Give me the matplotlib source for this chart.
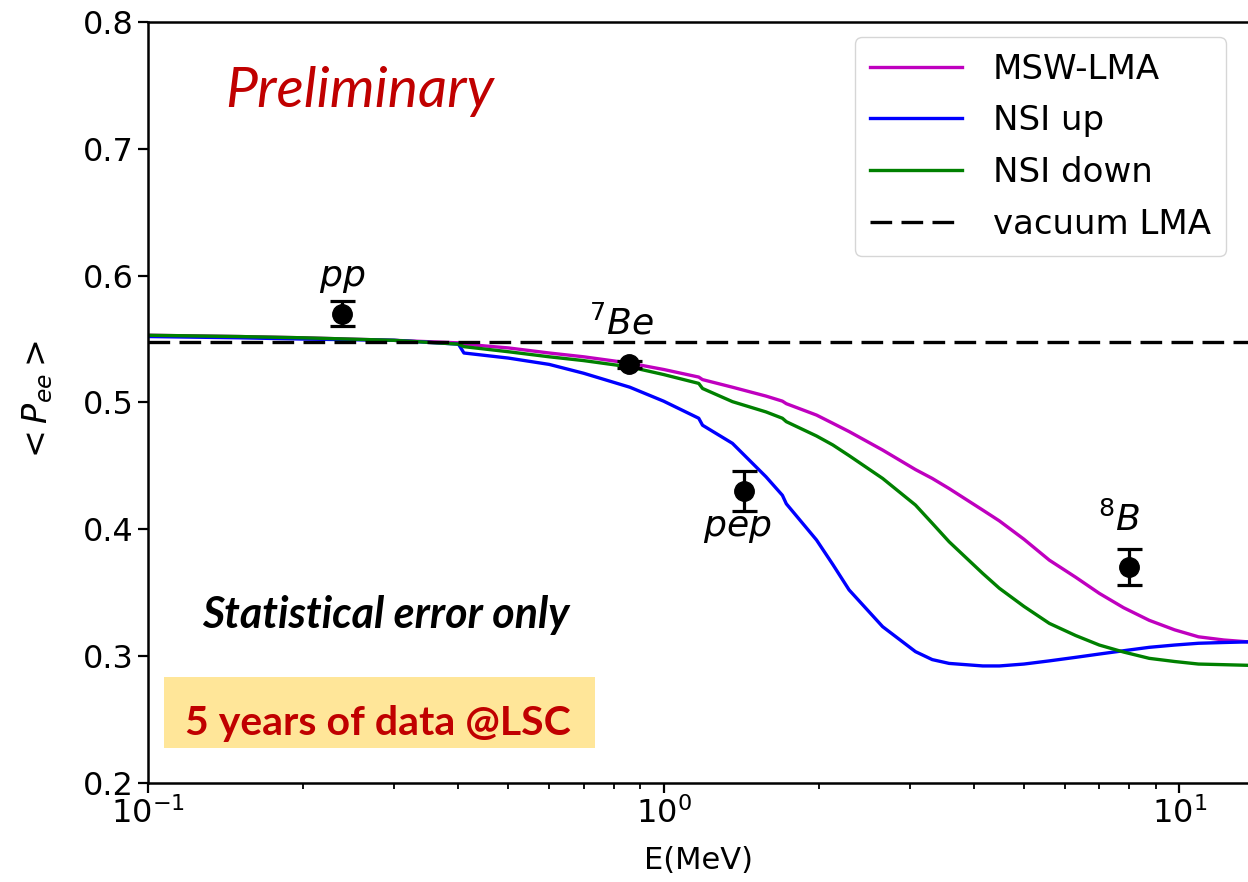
import matplotlib
matplotlib.use("Agg")
import matplotlib.pyplot as plt
from matplotlib.patches import Rectangle

energy = [0.1, 0.15, 0.2, 0.3, 0.4, 0.41, 0.5, 0.6, 0.7, 0.86, 1.0, 1.17, 1.19,
          1.36, 1.58, 1.70, 1.73, 1.98, 2.13, 2.29, 2.66, 3.08, 3.32, 3.58, 4.16,
          4.48, 5.0, 5.6, 6.3, 7.0, 7.8, 8.75, 9.8, 10.9, 12.2, 13.6]

msw_lma = [0.553, 0.552, 0.551, 0.549, 0.547, 0.546, 0.543, 0.539, 0.536, 0.531,
           0.526, 0.520, 0.518, 0.512, 0.505, 0.501, 0.499, 0.490, 0.4835, 0.477,
           0.4624, 0.447, 0.440, 0.432, 0.415, 0.4065, 0.392, 0.3755, 0.362,
           0.3493, 0.338, 0.328, 0.3205, 0.315, 0.3125, 0.311]

nsi_up = [0.552, 0.551, 0.550, 0.549, 0.546, 0.539, 0.535, 0.530, 0.523, 0.512,
          0.501, 0.4875, 0.482, 0.4677, 0.4413, 0.4267, 0.420, 0.3914, 0.372,
          0.352, 0.323, 0.3033, 0.297, 0.294, 0.292, 0.292, 0.2935, 0.296, 0.2988,
          0.3014, 0.304, 0.3067, 0.3085, 0.3099, 0.3105, 0.311]

nsi_down = [0.553, 0.552, 0.551, 0.549, 0.546, 0.544, 0.540, 0.536, 0.533, 0.528,
            0.522, 0.515, 0.511, 0.5006, 0.4925, 0.4875, 0.4848, 0.4735, 0.4664,
            0.458, 0.440, 0.419, 0.4046, 0.390, 0.365, 0.3533, 0.339, 0.3256,
            0.316, 0.3085, 0.303, 0.298, 0.2955, 0.2935, 0.293, 0.2925]

vacuum_lma = 0.548

# measured points
src_names = ["$pp$", "$^7Be$", "$pep$", "$^8B$"]
src_energy = [0.238, 0.855, 1.43, 8.0]
src_pee = [0.570, 0.530, 0.430, 0.370]
src_err = [0.010, 0.003, 0.016, 0.014]
label_pos = [(0.238, 0.598), (0.83, 0.562), (1.39, 0.401), (7.65, 0.407)]

fig = plt.figure(figsize=(12.48, 8.82), dpi=100)
ax = fig.add_axes([0.1186, 0.1128, 0.8814, 0.8619])

ax.plot(energy, msw_lma, color="m", lw=2.4, label="MSW-LMA")
ax.plot(energy, nsi_up, color="b", lw=2.4, label="NSI up")
ax.plot(energy, nsi_down, color="g", lw=2.4, label="NSI down")
ax.axhline(vacuum_lma, color="k", lw=2.4, ls=(0, (6.5, 2.8)), label="vacuum LMA")

ax.errorbar(src_energy, src_pee, yerr=src_err, fmt="o", color="k", ms=14,
            capsize=9, elinewidth=2.3, capthick=2.3, zorder=5)
for name, (x, y) in zip(src_names, label_pos):
    ax.text(x, y, name, fontsize=26, ha="center", va="center")

ax.set_xscale("log")
ax.set_xlim(0.1, 13.6)
ax.set_ylim(0.2, 0.8)
ax.set_yticks([0.2, 0.3, 0.4, 0.5, 0.6, 0.7, 0.8])
ax.spines["right"].set_visible(False)
for s in ["left", "top", "bottom"]:
    ax.spines[s].set_linewidth(1.8)
ax.tick_params(which="major", labelsize=23, length=7, width=1.6)
ax.tick_params(which="minor", length=4.5, width=1.3)
ax.set_xlabel("E(MeV)", fontsize=22, labelpad=12)
ax.set_ylabel(r"$<P_{ee}>$", fontsize=24, labelpad=20)

leg = ax.legend(loc="upper right", bbox_to_anchor=(0.996, 0.977),
                bbox_transform=fig.transFigure, fontsize=24.5, handlelength=2.7,
                handletextpad=0.9, labelspacing=0.55, borderpad=0.45)

fig.text(0.288, 0.8787, "Preliminary", fontsize=41, style="italic",
         color="#C00000", family="Lato", ha="center", va="baseline")
fig.text(0.309, 0.288, "Statistical error only", fontsize=31, style="italic",
         weight="bold", color="k", family="Lato", ha="center", va="baseline")
fig.patches.append(Rectangle((0.1314, 0.152), 0.3454, 0.080,
                             transform=fig.transFigure, facecolor="#FFE699",
                             edgecolor="none", zorder=1))
fig.text(0.303, 0.1667, "5 years of data @LSC", fontsize=29.5, weight="bold",
         color="#C00000", family="Lato", ha="center", va="baseline", zorder=2)

fig.savefig("out.png", dpi=100)
